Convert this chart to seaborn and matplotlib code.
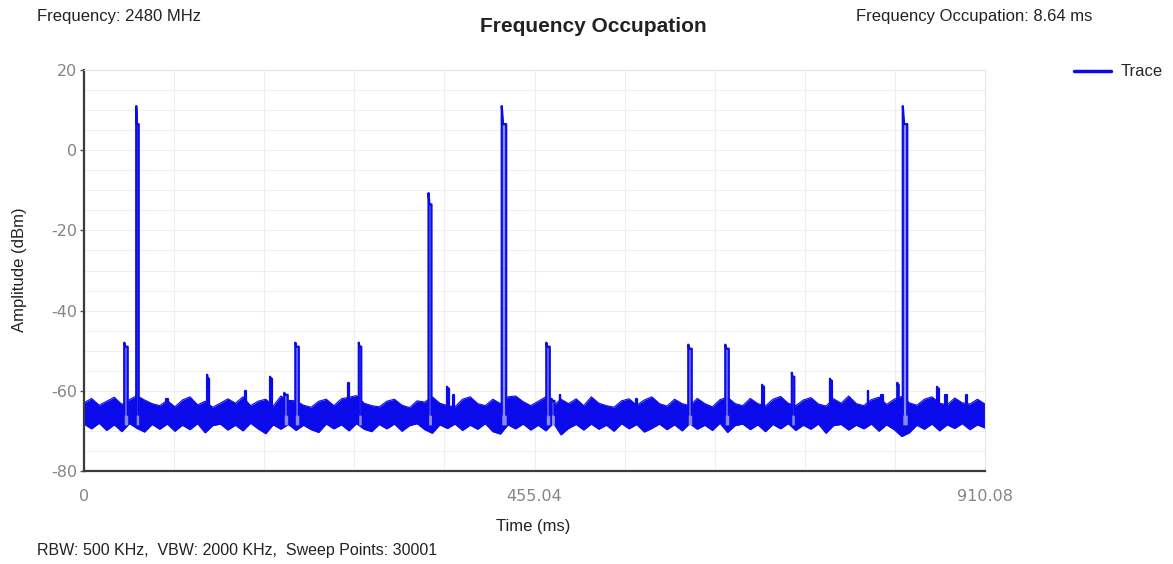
import numpy as np
import pandas as pd
import matplotlib
matplotlib.use("Agg")
import matplotlib.pyplot as plt
from matplotlib.lines import Line2D
from matplotlib.ticker import MultipleLocator
import seaborn as sns

# bursts seen in the sweep: centre (ms), peak (dBm), plateau (dBm), width (ms)
burst_time = [42.4, 54.0, 84.0, 125.3, 163.6, 188.9, 204.0, 215.2, 266.7, 278.8,
              349.5, 367.7, 373.7, 424.2, 468.7, 473.7, 480.8, 557.6, 612.1, 649.5,
              685.9, 716.2, 754.5, 791.9, 806.0, 822.2, 829.3, 862.6, 870.7, 890.9]
burst_peak = [-48, 11, -62, -56, -60, -56.5, -60.5, -48, -58, -48,
              -10.7, -59, -61, 11, -48, -62, -61, -62, -48.5, -48.5,
              -58.5, -55.5, -57, -60, -61, -58, 11, -59, -61, -61]
burst_level = [-49, 6.5, -62, -57, -60, -57, -61, -49, -58, -49,
               -13.5, -59.5, -61, 6.5, -49, -62.5, -61, -62, -49.5, -49.5,
               -59, -56.5, -57.5, -60, -61, -58.5, 6.5, -59.5, -61, -61]
burst_width = [3.5, 2.5, 2.0, 2.0, 1.0, 2.0, 3.5, 3.5, 1.0, 2.5,
               3.0, 2.0, 1.0, 4.5, 3.5, 3.0, 1.0, 1.0, 3.5, 3.5,
               2.0, 2.5, 2.0, 1.0, 1.5, 1.5, 4.5, 2.0, 1.5, 1.0]

# noise floor envelope along the sweep (dBm), evenly spread over 0 .. 910.08 ms
floor_upper = [
    -63.0, -61.9, -63.6, -62.6, -61.6, -63.4, -62.2, -61.2, -62.3, -63.2,
    -63.7, -62.4, -64.0, -62.3, -61.5, -63.5, -62.6, -64.1, -63.1, -62.0,
    -63.1, -61.5, -63.7, -62.6, -62.1, -63.8, -61.3, -62.4, -62.5, -63.6,
    -64.1, -62.6, -62.1, -63.7, -62.0, -61.6, -61.2, -63.1, -63.7, -64.0,
    -62.6, -62.1, -63.6, -64.2, -62.5, -62.8, -61.5, -63.1, -63.7, -64.0,
    -62.1, -61.5, -63.2, -63.7, -62.1, -63.2, -61.5, -61.3, -62.7, -63.7,
    -62.6, -61.5, -63.7, -62.1, -63.2, -62.0, -63.7, -61.5, -63.1, -63.7,
    -64.1, -62.5, -62.0, -63.6, -62.3, -61.5, -63.2, -63.8, -62.1, -63.2,
    -63.7, -61.9, -63.2, -64.0, -62.2, -61.6, -63.2, -63.7, -61.9, -63.2,
    -63.8, -62.1, -61.4, -63.1, -63.7, -62.3, -61.7, -63.3, -63.8, -62.0,
    -63.1, -61.3, -63.2, -63.7, -62.2, -61.6, -63.4, -62.1, -61.4, -63.0,
    -63.6, -62.1, -61.5, -63.1, -63.5, -61.8, -63.0, -63.3, -62.1, -63.3,
]
floor_lower = [
    -68.3, -69.5, -68.1, -69.9, -68.5, -70.2, -68.2, -69.4, -70.3, -68.4,
    -69.6, -68.3, -70.1, -68.6, -69.7, -68.2, -70.5, -68.7, -68.3, -69.8,
    -68.6, -70.0, -68.1, -69.5, -70.7, -68.5, -69.6, -68.4, -69.9, -68.6,
    -69.7, -70.4, -68.3, -69.5, -68.5, -70.0, -68.2, -69.6, -70.2, -68.4,
    -69.5, -68.3, -70.1, -68.7, -68.2, -69.7, -70.6, -68.5, -69.4, -68.3,
    -69.9, -68.6, -69.6, -68.2, -70.2, -70.8, -68.5, -69.5, -68.3, -69.8,
    -68.6, -70.0, -68.1, -71.0, -69.4, -68.4, -69.8, -68.3, -69.6, -68.6,
    -70.1, -68.2, -69.5, -68.4, -70.3, -69.4, -68.3, -69.7, -68.5, -70.0,
    -68.2, -69.6, -68.6, -69.9, -68.1, -70.4, -68.7, -68.3, -69.7, -68.5,
    -70.2, -68.4, -69.5, -68.2, -69.9, -68.6, -69.6, -68.3, -70.6, -68.7,
    -68.4, -69.8, -68.6, -69.5, -68.3, -70.1, -68.5, -69.7, -71.4, -70.5,
    -68.6, -69.6, -68.3, -70.0, -68.5, -69.4, -68.2, -69.7, -68.5, -69.3,
]

x_ticks = [0, 455.04, 910.08]
x_labels = ["0", "455.04", "910.08"]
y_ticks = [-80, -60, -40, -20, 0, 20]
x_max = 910.08

TRACE = "#0a0aeb"
FILL = "#8a8af2"
BASE = -66.0

sns.set_theme(style="white")
plt.rcParams["font.family"] = ["Liberation Sans", "DejaVu Sans"]
plt.rcParams["axes.unicode_minus"] = False

fig = plt.figure(figsize=(11.73, 5.64), dpi=100)
ax = fig.add_axes([84 / 1173, 1 - 471 / 564, 901 / 1173, 401 / 564])

# noise floor band
t_env = np.linspace(0, x_max, len(floor_upper))
ax.fill_between(t_env, floor_lower, floor_upper, color=TRACE, lw=0, zorder=2)
ax.plot(t_env, floor_upper, color=TRACE, lw=0.8, zorder=2)
ax.plot(t_env, floor_lower, color=TRACE, lw=0.8, zorder=2)

# burst outlines
rows = []
for k, (t, pk, lv, w) in enumerate(zip(burst_time, burst_peak, burst_level, burst_width)):
    t0, t1 = t - w / 2, t + w / 2
    xs = [t0, t0, t0 + w * 0.3, t1, t1]
    ys = [BASE, pk, lv, lv, BASE]
    if w >= 2.5:
        ax.fill_between(xs, BASE - 2.5, ys, color=FILL, lw=0, zorder=3)
    for o, (x, y) in enumerate(zip(xs, ys)):
        rows.append({"burst": k, "order": o, "t": x, "amp": y})
bursts = pd.DataFrame(rows)
sns.lineplot(data=bursts, x="t", y="amp", units="burst", estimator=None,
             sort=False, color=TRACE, lw=1.6, ax=ax, zorder=4)

ax.set_xlim(0, x_max)
ax.set_ylim(-80, 20)
ax.set_xticks(x_ticks)
ax.set_xticklabels(x_labels)
ax.set_yticks(y_ticks)
ax.xaxis.set_minor_locator(MultipleLocator(x_max / 10))
ax.yaxis.set_minor_locator(MultipleLocator(5))
ax.grid(True, which="both", color="#efefef", lw=0.8)
ax.set_axisbelow(True)
ax.set_xlabel("")
ax.set_ylabel("")

for side in ["top", "right"]:
    ax.spines[side].set_color("#e6e6e6")
    ax.spines[side].set_linewidth(0.8)
for side in ["left", "bottom"]:
    ax.spines[side].set_color("#3a3a3a")
    ax.spines[side].set_linewidth(1.6)

ax.tick_params(axis="y", which="major", length=3, width=1, color="#555555",
               pad=2, labelcolor="#858585", left=True)
ax.tick_params(axis="x", which="major", length=0, pad=13, labelcolor="#858585")
ax.tick_params(which="minor", length=0)
for lab in ax.get_xticklabels() + ax.get_yticklabels():
    lab.set_fontfamily("DejaVu Sans")
    lab.set_fontsize(11.5)

# header / footer texts
fig.text(37 / 1173, 1 - 16 / 564, "Frequency: 2480 MHz", ha="left", va="center",
         size=12, color="#222222")
fig.text(593 / 1173, 1 - 26 / 564, "Frequency Occupation", ha="center", va="center",
         size=15, weight="bold", color="#222222")
fig.text(856 / 1173, 1 - 16 / 564, "Frequency Occupation: 8.64 ms", ha="left",
         va="center", size=12, color="#222222")
fig.text(533 / 1173, 1 - 526 / 564, "Time (ms)", ha="center", va="center",
         size=12, color="#222222")
fig.text(20 / 1173, 1 - 270 / 564, "Amplitude (dBm)", ha="center", va="center",
         rotation=90, size=12, color="#222222")
fig.text(37 / 1173, 1 - 551 / 564, "RBW: 500 KHz,  VBW: 2000 KHz,  Sweep Points: 30001",
         ha="left", va="center", size=11.5, color="#222222")

handle = Line2D([], [], color=TRACE, lw=2.5)
fig.legend([handle], ["Trace"], loc="center left",
           bbox_to_anchor=(1074 / 1173, 1 - 72 / 564), frameon=False,
           borderpad=0, borderaxespad=0, handlelength=2.2, handletextpad=0.6,
           fontsize=12)

fig.savefig("out.png", dpi=100)
